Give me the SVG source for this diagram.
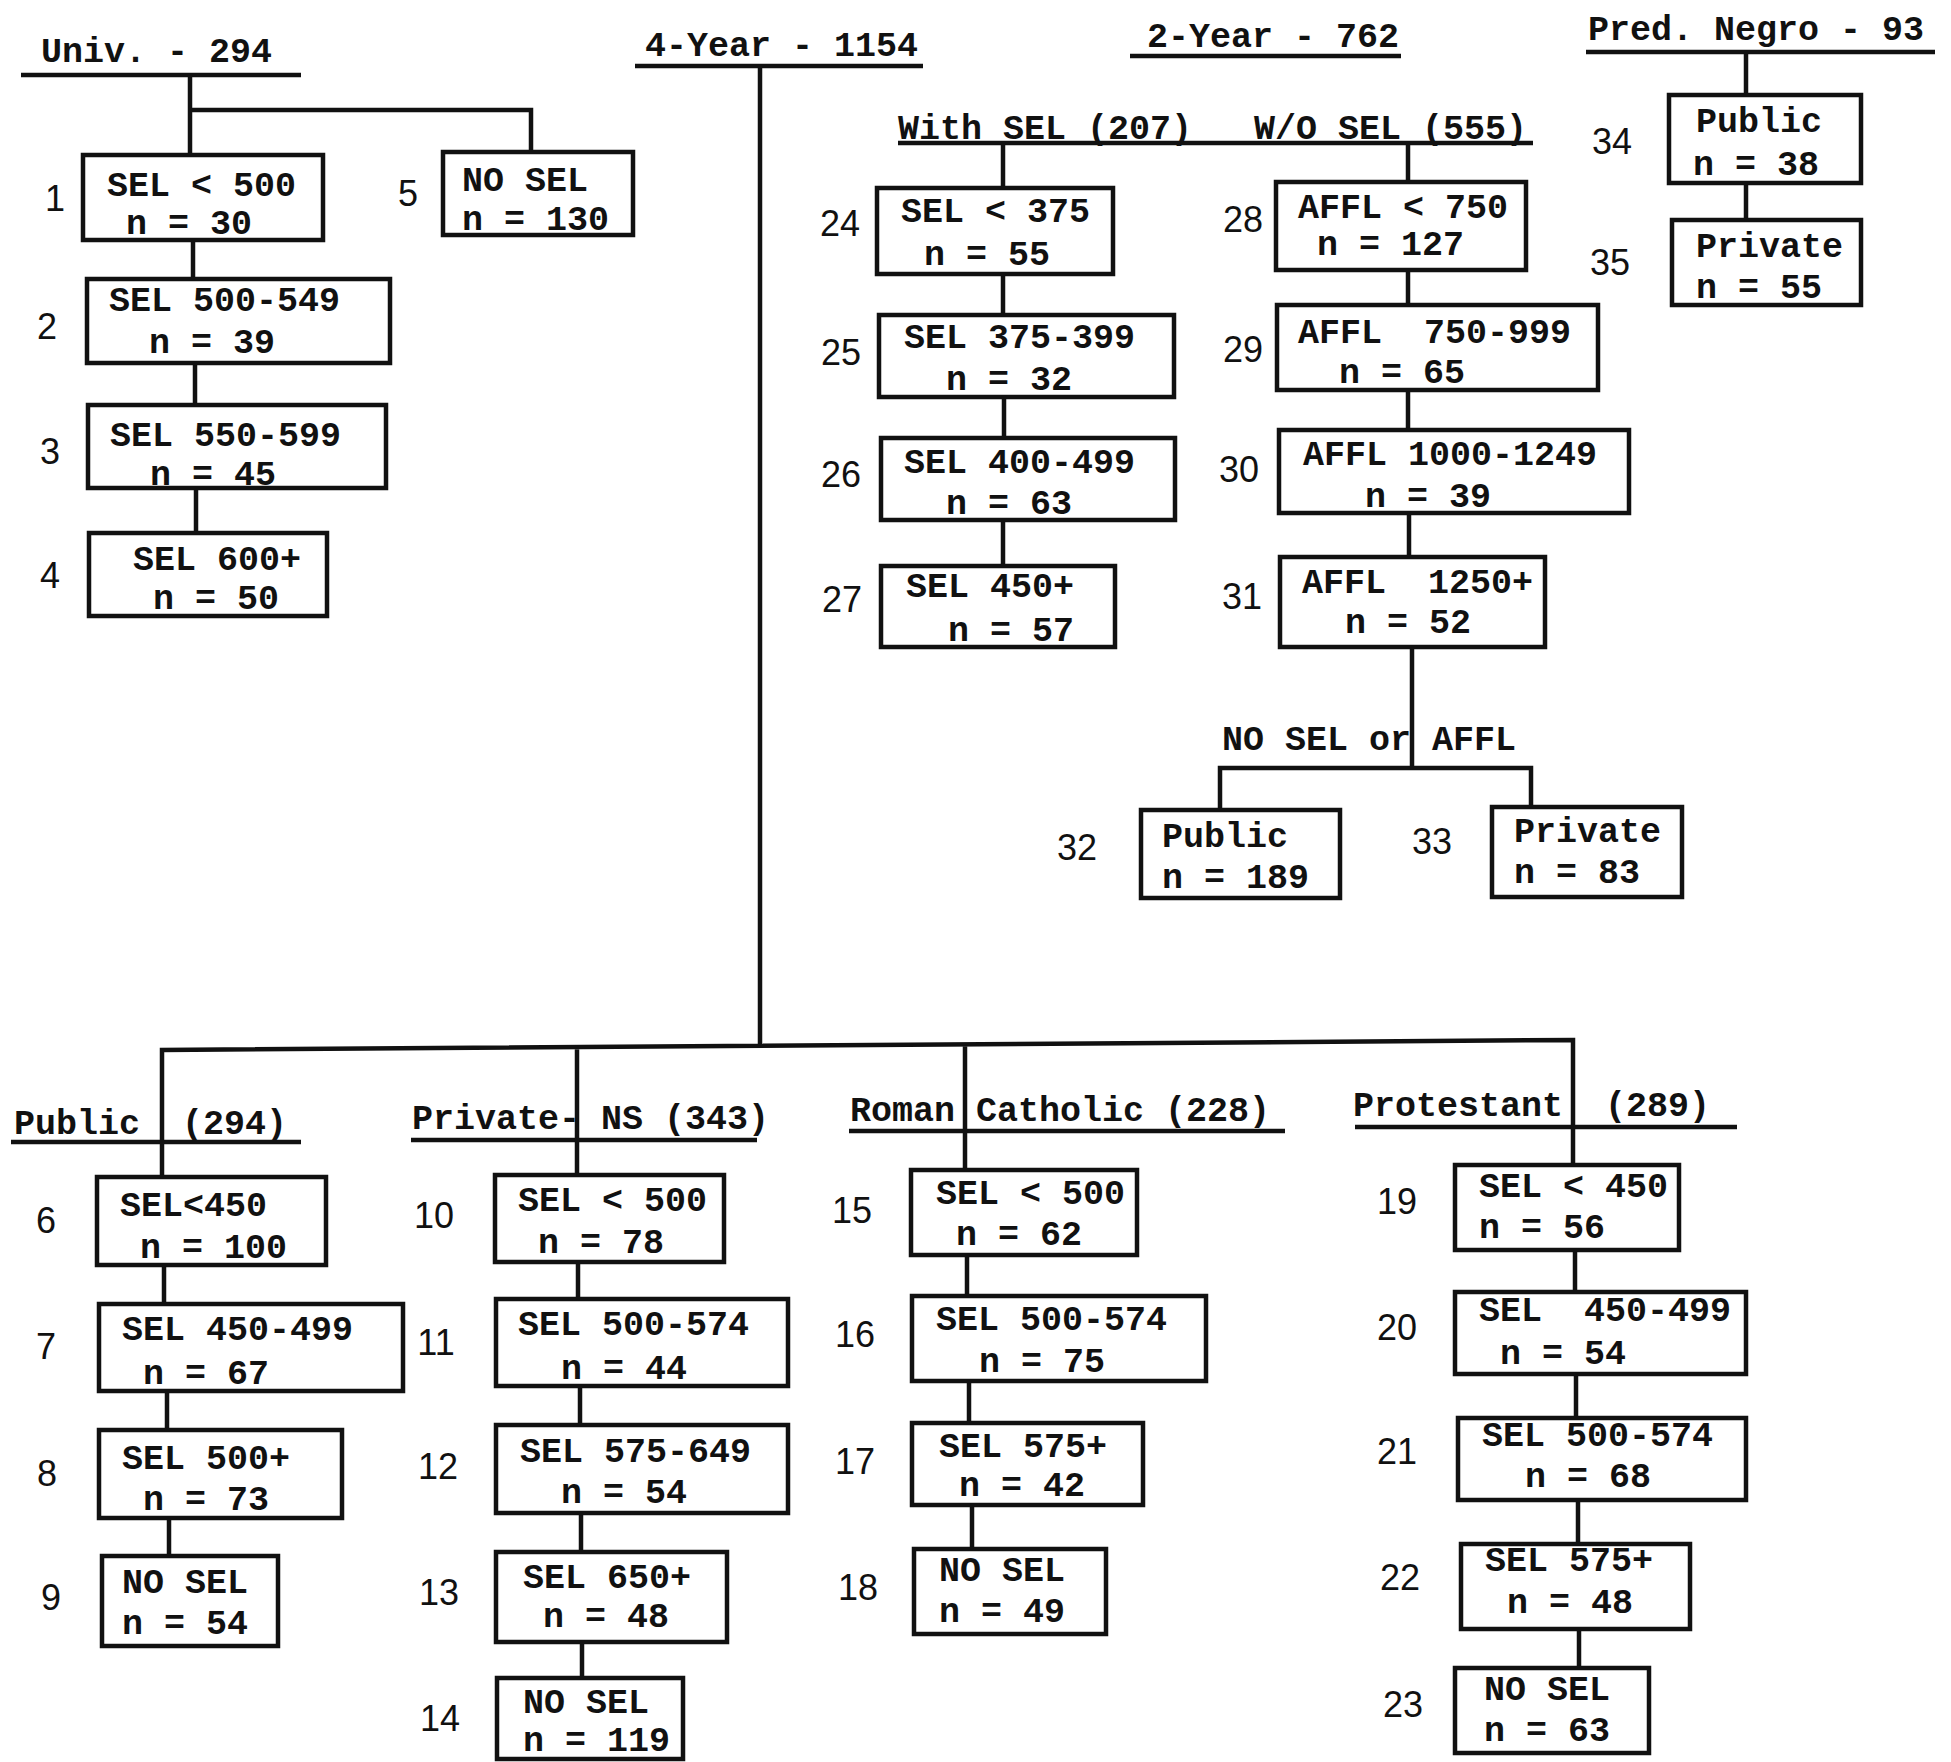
<svg xmlns="http://www.w3.org/2000/svg" width="1951" height="1762" viewBox="0 0 1951 1762">
<style>
text{font-family:"Liberation Mono","DejaVu Sans Mono",monospace;font-weight:bold;font-size:35px;fill:#111;white-space:pre}
.lbl{text-anchor:middle;font-weight:normal;font-family:"Liberation Sans","DejaVu Sans",sans-serif;font-size:36px}
rect{fill:none;stroke:#111;stroke-width:4.5}
.c path{fill:none;stroke:#111;stroke-width:4.5}
.u{fill:none;stroke:#111;stroke-width:4.5}
</style>
<rect x="0" y="0" width="1951" height="1762" style="fill:#fff;stroke:none"/>
<g id="headers">
<g id="h-univ"><text x="41" y="62">Univ. - 294</text><path class="u" d="M21,75 H301"/></g>
<g id="h-4year"><text x="645" y="56">4-Year - 1154</text><path class="u" d="M635,66 H923"/></g>
<g id="h-2year"><text x="1147" y="47">2-Year - 762</text><path class="u" d="M1130,56 H1401"/></g>
<g id="h-sel"><text x="898" y="139">With SEL (207)</text><text x="1254" y="139">W/O SEL (555)</text><path class="u" d="M898,143 H1533"/></g>
<g id="h-pred"><text x="1588" y="40">Pred. Negro - 93</text><path class="u" d="M1586,52 H1935"/></g>
<g id="h-nosel"><text x="1222" y="750">NO SEL or AFFL</text></g>
<g id="h-public"><text x="14" y="1134">Public  (294)</text><path class="u" d="M11,1142 H301"/></g>
<g id="h-private"><text x="412" y="1129">Private- NS (343)</text><path class="u" d="M411,1140 H757"/></g>
<g id="h-rc"><text x="850" y="1121">Roman Catholic (228)</text><path class="u" d="M849,1131 H1285"/></g>
<g id="h-prot"><text x="1353" y="1116">Protestant  (289)</text><path class="u" d="M1355,1127 H1737"/></g>
</g>
<g id="connectors" class="c">
<path d="M190,75 V155 M190,110 H531 V152"/>
<path d="M193,240 V279 M195,363 V405 M196,488 V533"/>
<path d="M760,66 V1046"/>
<path d="M162,1177 V1050 L1573,1040 V1165 M577,1047 V1175 M965,1044 V1170"/>
<path d="M164,1265 V1304 M167,1391 V1430 M169,1518 V1556"/>
<path d="M578,1262 V1299 M580,1386 V1425 M581,1513 V1552 M582,1642 V1678"/>
<path d="M967,1255 V1296 M969,1381 V1423 M972,1505 V1549"/>
<path d="M1575,1250 V1292 M1576,1374 V1418 M1578,1500 V1544 M1579,1629 V1668"/>
<path d="M1003,143 V188 M1003,274 V315 M1004,397 V438 M1003,520 V566"/>
<path d="M1408,143 V182 M1408,270 V305 M1408,390 V430 M1409,513 V557 M1412,647 V770"/>
<path d="M1220,810 V768 H1531 V807"/>
<path d="M1746,52 V95 M1746,183 V220"/>
</g>
<g id="n1"><rect x="83" y="155" width="240" height="85"/><text x="107" y="196">SEL &lt; 500</text><text x="126" y="234">n = 30</text><text class="lbl" x="55" y="211">1</text></g>
<g id="n2"><rect x="87" y="279" width="303" height="84"/><text x="109" y="311">SEL 500-549</text><text x="149" y="353">n = 39</text><text class="lbl" x="47" y="339">2</text></g>
<g id="n3"><rect x="88" y="405" width="298" height="83"/><text x="110" y="446">SEL 550-599</text><text x="150" y="485">n = 45</text><text class="lbl" x="50" y="464">3</text></g>
<g id="n4"><rect x="89" y="533" width="238" height="83"/><text x="133" y="570">SEL 600+</text><text x="153" y="609">n = 50</text><text class="lbl" x="50" y="588">4</text></g>
<g id="n5"><rect x="443" y="152" width="190" height="83"/><text x="462" y="191">NO SEL</text><text x="462" y="230">n = 130</text><text class="lbl" x="408" y="206">5</text></g>
<g id="n6"><rect x="97" y="1177" width="229" height="88"/><text x="120" y="1216">SEL&lt;450</text><text x="140" y="1258">n = 100</text><text class="lbl" x="46" y="1233">6</text></g>
<g id="n7"><rect x="99" y="1304" width="304" height="87"/><text x="122" y="1340">SEL 450-499</text><text x="143" y="1384">n = 67</text><text class="lbl" x="46" y="1359">7</text></g>
<g id="n8"><rect x="99" y="1430" width="243" height="88"/><text x="122" y="1469">SEL 500+</text><text x="143" y="1510">n = 73</text><text class="lbl" x="47" y="1486">8</text></g>
<g id="n9"><rect x="102" y="1556" width="176" height="90"/><text x="122" y="1593">NO SEL</text><text x="122" y="1634">n = 54</text><text class="lbl" x="51" y="1610">9</text></g>
<g id="n10"><rect x="495" y="1175" width="229" height="87"/><text x="518" y="1211">SEL &lt; 500</text><text x="538" y="1253">n = 78</text><text class="lbl" x="434" y="1228">10</text></g>
<g id="n11"><rect x="496" y="1299" width="292" height="87"/><text x="518" y="1335">SEL 500-574</text><text x="561" y="1379">n = 44</text><text class="lbl" x="436" y="1355">11</text></g>
<g id="n12"><rect x="496" y="1425" width="292" height="88"/><text x="520" y="1462">SEL 575-649</text><text x="561" y="1503">n = 54</text><text class="lbl" x="438" y="1479">12</text></g>
<g id="n13"><rect x="496" y="1552" width="231" height="90"/><text x="523" y="1588">SEL 650+</text><text x="543" y="1627">n = 48</text><text class="lbl" x="439" y="1605">13</text></g>
<g id="n14"><rect x="497" y="1678" width="186" height="81"/><text x="523" y="1713">NO SEL</text><text x="523" y="1751">n = 119</text><text class="lbl" x="440" y="1731">14</text></g>
<g id="n15"><rect x="911" y="1170" width="226" height="85"/><text x="936" y="1204">SEL &lt; 500</text><text x="956" y="1245">n = 62</text><text class="lbl" x="852" y="1223">15</text></g>
<g id="n16"><rect x="912" y="1296" width="294" height="85"/><text x="936" y="1330">SEL 500-574</text><text x="979" y="1372">n = 75</text><text class="lbl" x="855" y="1347">16</text></g>
<g id="n17"><rect x="912" y="1423" width="231" height="82"/><text x="939" y="1457">SEL 575+</text><text x="959" y="1496">n = 42</text><text class="lbl" x="855" y="1474">17</text></g>
<g id="n18"><rect x="914" y="1549" width="192" height="85"/><text x="939" y="1581">NO SEL</text><text x="939" y="1622">n = 49</text><text class="lbl" x="858" y="1600">18</text></g>
<g id="n19"><rect x="1455" y="1165" width="224" height="85"/><text x="1479" y="1197">SEL &lt; 450</text><text x="1479" y="1238">n = 56</text><text class="lbl" x="1397" y="1214">19</text></g>
<g id="n20"><rect x="1455" y="1292" width="291" height="82"/><text x="1479" y="1321">SEL  450-499</text><text x="1500" y="1364">n = 54</text><text class="lbl" x="1397" y="1340">20</text></g>
<g id="n21"><rect x="1458" y="1418" width="288" height="82"/><text x="1482" y="1446">SEL 500-574</text><text x="1525" y="1487">n = 68</text><text class="lbl" x="1397" y="1464">21</text></g>
<g id="n22"><rect x="1461" y="1544" width="229" height="85"/><text x="1485" y="1571">SEL 575+</text><text x="1507" y="1613">n = 48</text><text class="lbl" x="1400" y="1590">22</text></g>
<g id="n23"><rect x="1455" y="1668" width="194" height="85"/><text x="1484" y="1700">NO SEL</text><text x="1484" y="1741">n = 63</text><text class="lbl" x="1403" y="1717">23</text></g>
<g id="n24"><rect x="877" y="188" width="236" height="86"/><text x="901" y="222">SEL &lt; 375</text><text x="924" y="265">n = 55</text><text class="lbl" x="840" y="236">24</text></g>
<g id="n25"><rect x="879" y="315" width="295" height="82"/><text x="904" y="348">SEL 375-399</text><text x="946" y="390">n = 32</text><text class="lbl" x="841" y="365">25</text></g>
<g id="n26"><rect x="881" y="438" width="294" height="82"/><text x="904" y="473">SEL 400-499</text><text x="946" y="514">n = 63</text><text class="lbl" x="841" y="487">26</text></g>
<g id="n27"><rect x="881" y="566" width="234" height="81"/><text x="906" y="597">SEL 450+</text><text x="948" y="641">n = 57</text><text class="lbl" x="842" y="612">27</text></g>
<g id="n28"><rect x="1276" y="182" width="250" height="88"/><text x="1298" y="218">AFFL &lt; 750</text><text x="1317" y="255">n = 127</text><text class="lbl" x="1243" y="232">28</text></g>
<g id="n29"><rect x="1277" y="305" width="321" height="85"/><text x="1298" y="343">AFFL  750-999</text><text x="1339" y="383">n = 65</text><text class="lbl" x="1243" y="362">29</text></g>
<g id="n30"><rect x="1279" y="430" width="350" height="83"/><text x="1303" y="465">AFFL 1000-1249</text><text x="1365" y="507">n = 39</text><text class="lbl" x="1239" y="482">30</text></g>
<g id="n31"><rect x="1280" y="557" width="265" height="90"/><text x="1302" y="593">AFFL  1250+</text><text x="1345" y="633">n = 52</text><text class="lbl" x="1242" y="609">31</text></g>
<g id="n32"><rect x="1141" y="810" width="199" height="88"/><text x="1162" y="847">Public</text><text x="1162" y="888">n = 189</text><text class="lbl" x="1077" y="860">32</text></g>
<g id="n33"><rect x="1492" y="807" width="190" height="90"/><text x="1514" y="842">Private</text><text x="1514" y="883">n = 83</text><text class="lbl" x="1432" y="854">33</text></g>
<g id="n34"><rect x="1669" y="95" width="192" height="88"/><text x="1696" y="132">Public</text><text x="1693" y="175">n = 38</text><text class="lbl" x="1612" y="154">34</text></g>
<g id="n35"><rect x="1672" y="220" width="189" height="85"/><text x="1696" y="257">Private</text><text x="1696" y="298">n = 55</text><text class="lbl" x="1610" y="275">35</text></g>
</svg>
